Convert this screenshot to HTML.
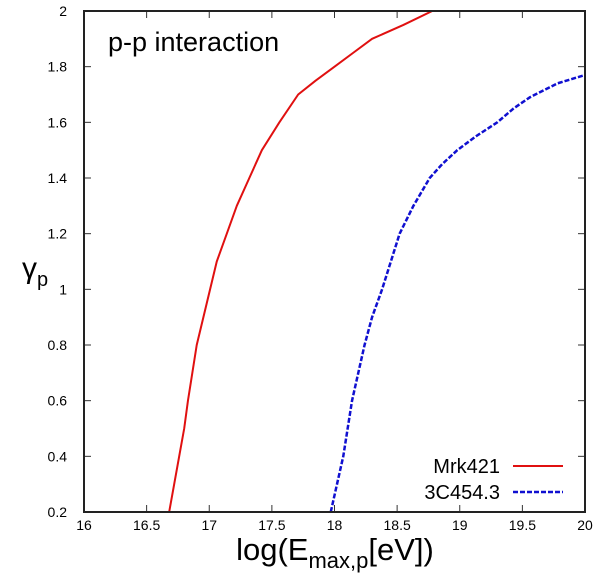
<!DOCTYPE html>
<html><head><meta charset="utf-8"><style>
body{margin:0;background:#fff;}
svg{display:block;font-family:"Liberation Sans",sans-serif;}
</style></head><body>
<svg id="chart" width="600" height="579">
<rect x="0" y="0" width="600" height="579" fill="#fff"/>
<g id="ticks"></g>
<g id="series"></g>
<rect x="84" y="11" width="501" height="501" fill="none" stroke="#222" stroke-width="2"/>
<text x="108" y="51" font-size="27" fill="#000">p-p interaction</text>
<text x="335" y="560" font-size="31" text-anchor="middle">log(E<tspan font-size="22" dy="8">max,p</tspan><tspan dy="-8">[eV])</tspan></text>
<text x="22" y="278" font-size="30">γ<tspan font-size="20" dy="8">p</tspan></text>
<g>
<text x="500" y="473" font-size="20" text-anchor="end">Mrk421</text>
<line x1="513" y1="466" x2="563" y2="466" stroke="#e01010" stroke-width="2"/>
<text x="500" y="499" font-size="20" text-anchor="end">3C454.3</text>
<line x1="513" y1="492" x2="563" y2="492" stroke="#1010d0" stroke-width="2.5" stroke-dasharray="5,2"/>
</g>
</svg>
<script>
const xTicks=[16,16.5,17,17.5,18,18.5,19,19.5,20];
const yTicks=[0.2,0.4,0.6,0.8,1,1.2,1.4,1.6,1.8,2];
const mrkX=[16.68,16.72,16.76,16.8,16.83,16.9,16.98,17.06,17.14,17.22,17.32,17.42,17.56,17.71,17.85,18.0,18.15,18.3,18.55,18.78];
const mrkY=[0.2,0.3,0.4,0.5,0.6,0.8,0.95,1.1,1.2,1.3,1.4,1.5,1.6,1.7,1.75,1.8,1.85,1.9,1.95,2.0];
const blzX=[17.97,18.02,18.07,18.14,18.24,18.3,18.38,18.45,18.52,18.63,18.76,18.86,18.98,19.13,19.3,19.43,19.56,19.78,20.0];
const blzY=[0.2,0.3,0.4,0.6,0.8,0.9,1.0,1.1,1.2,1.3,1.4,1.45,1.5,1.55,1.6,1.65,1.69,1.74,1.77];
const sx=v=>84+(v-16)*501/4;
const sy=v=>512-(v-0.2)*501/1.8;
const NS='http://www.w3.org/2000/svg';
const tg=document.getElementById('ticks');
xTicks.forEach(v=>{
  for(const [a,b] of [[512,505],[11,18]]){
    const l=document.createElementNS(NS,'line');
    l.setAttribute('x1',sx(v));l.setAttribute('x2',sx(v));l.setAttribute('y1',a);l.setAttribute('y2',b);
    l.setAttribute('stroke','#333');
    
    
    tg.appendChild(l);
  }
  const t=document.createElementNS(NS,'text');
  t.setAttribute('x',sx(v));t.setAttribute('y',530);t.setAttribute('font-size','14');t.setAttribute('text-anchor','middle');
  t.textContent=String(v);
  
  
  tg.appendChild(t);
});
yTicks.forEach(v=>{
  for(const [a,b] of [[84,91],[585,578]]){
    const l=document.createElementNS(NS,'line');
    l.setAttribute('y1',sy(v));l.setAttribute('y2',sy(v));l.setAttribute('x1',a);l.setAttribute('x2',b);
    l.setAttribute('stroke','#333');
    
    
    tg.appendChild(l);
  }
  const t=document.createElementNS(NS,'text');
  t.setAttribute('x',67);t.setAttribute('y',sy(v)+5);t.setAttribute('font-size','14');t.setAttribute('text-anchor','end');
  t.textContent=String(v);
  
  
  tg.appendChild(t);
});
const sg=document.getElementById('series');
function line(xs,ys,color,dash,name,w){
  const p=document.createElementNS(NS,'polyline');
  p.setAttribute('points',xs.map((x,i)=>sx(x)+','+sy(ys[i])).join(' '));
  p.setAttribute('fill','none');p.setAttribute('stroke',color);p.setAttribute('stroke-width',w);
  p.setAttribute('stroke-linejoin','round');
  if(dash)p.setAttribute('stroke-dasharray',dash);
  
  
  sg.appendChild(p);
}
line(mrkX,mrkY,'#e01010',null,'series-mrk421',2);
line(blzX,blzY,'#1010d0','5,2','series-3c454',2.5);
</script>
</body></html>
